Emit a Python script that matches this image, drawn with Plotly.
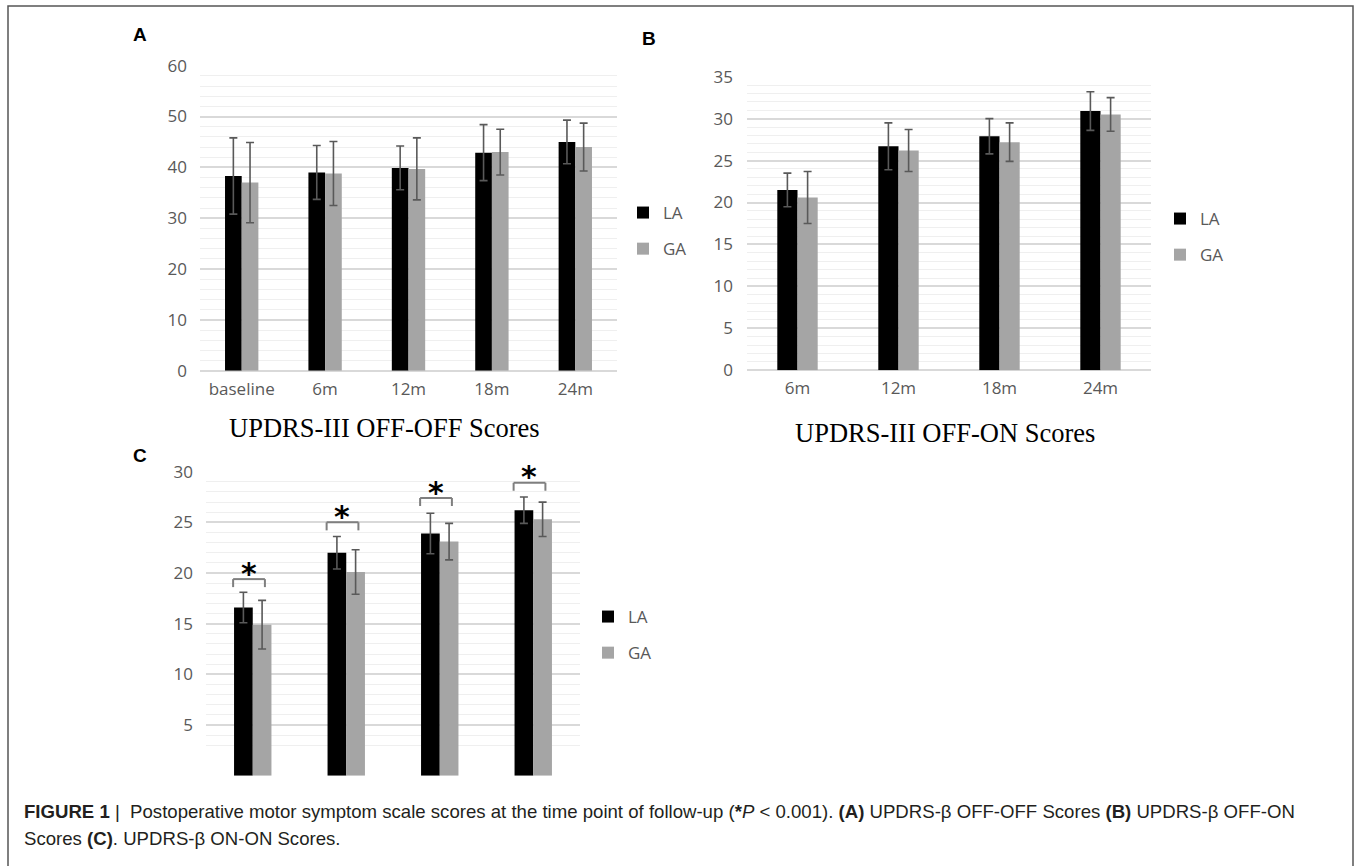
import plotly.graph_objects as go

W, H = 1360, 866

# ---- data ----
groups = ["LA", "GA"]

offoff_times = ["baseline", "6m", "12m", "18m", "24m"]
offoff_la = [38.3, 39.0, 39.9, 42.9, 45.0]
offoff_la_sd = [7.5, 5.3, 4.3, 5.5, 4.3]
offoff_ga = [37.0, 38.8, 39.7, 43.0, 44.0]
offoff_ga_sd = [7.9, 6.3, 6.1, 4.5, 4.7]

offon_times = ["6m", "12m", "18m", "24m"]
offon_la = [21.5, 26.7, 27.9, 30.9]
offon_la_sd = [2.0, 2.8, 2.1, 2.3]
offon_ga = [20.6, 26.2, 27.2, 30.5]
offon_ga_sd = [3.1, 2.5, 2.3, 2.0]

onon_times = ["6m", "12m", "18m", "24m"]
onon_la = [16.6, 22.0, 23.9, 26.2]
onon_la_sd = [1.5, 1.6, 2.0, 1.3]
onon_ga = [14.9, 20.1, 23.1, 25.3]
onon_ga_sd = [2.4, 2.2, 1.8, 1.7]
onon_sig_y = [19.4, 25.0, 27.4, 28.9]   # height of the significance brackets

title_a = "UPDRS-III OFF-OFF Scores"
title_b = "UPDRS-III OFF-ON Scores"

# ---- style ----
LA_COLOR = "#000000"
GA_COLOR = "#a5a5a5"
ERR_COLOR = "#595959"
TICK_FONT = dict(family="Open Sans, Liberation Sans, sans-serif", size=17, color="#595959")
MAJOR = "#d9d9d9"
MINOR = "#efefef"


def px_x(v):
    return v / W


def px_y(v):
    return 1 - v / H


fig = go.Figure()


def add_pair(times, la, la_sd, ga, ga_sd, xa, ya, legend):
    for name, vals, sd, color in (("LA", la, la_sd, LA_COLOR), ("GA", ga, ga_sd, GA_COLOR)):
        fig.add_trace(go.Bar(
            x=times, y=vals, name=name, xaxis=xa, yaxis=ya,
            marker=dict(color=color, line=dict(width=0)),
            error_y=dict(type="data", array=sd, visible=True,
                         color=ERR_COLOR, thickness=1.6, width=4),
            legend=legend, legendgroup=legend + name,
        ))


add_pair(offoff_times, offoff_la, offoff_la_sd, offoff_ga, offoff_ga_sd, "x", "y", "legend")
add_pair(offon_times, offon_la, offon_la_sd, offon_ga, offon_ga_sd, "x2", "y2", "legend2")
add_pair(onon_times, onon_la, onon_la_sd, onon_ga, onon_ga_sd, "x3", "y3", "legend3")

xax_common = dict(type="category", showgrid=False, showline=False, ticks="",
                  tickfont=TICK_FONT, ticklabelstandoff=6, fixedrange=True,
                  automargin=False)

fig.update_layout(
    width=W, height=H,
    margin=dict(l=0, r=0, t=0, b=0, pad=0, autoexpand=False),
    paper_bgcolor="white", plot_bgcolor="white",
    barmode="group", bargap=0.6, bargroupgap=0,
    xaxis=dict(domain=[px_x(200), px_x(617)], anchor="y", **xax_common),
    yaxis=dict(domain=[px_y(370.7), px_y(65.7)], anchor="x", range=[0, 60],
               dtick=10, tick0=0, showgrid=True, gridcolor=MAJOR, gridwidth=1.5,
               zeroline=True, zerolinecolor=MAJOR, zerolinewidth=1.5,
               minor=dict(dtick=2, tick0=0, showgrid=True, gridcolor=MINOR, gridwidth=1),
               tickfont=TICK_FONT, ticklabelstandoff=12, fixedrange=True,
               automargin=False),
    xaxis2=dict(domain=[px_x(747), px_x(1151)], anchor="y2", **xax_common),
    yaxis2=dict(domain=[px_y(370.3), px_y(76.7)], anchor="x2", range=[0, 35],
                dtick=5, tick0=0, showgrid=True, gridcolor=MAJOR, gridwidth=1.5,
                zeroline=True, zerolinecolor=MAJOR, zerolinewidth=1.5,
                minor=dict(dtick=1, tick0=0, showgrid=True, gridcolor=MINOR, gridwidth=1),
                tickfont=TICK_FONT, ticklabelstandoff=13, fixedrange=True,
                automargin=False),
    xaxis3=dict(domain=[px_x(206), px_x(580)], anchor="y3", showticklabels=False,
                type="category", showgrid=False, showline=False, ticks="",
                fixedrange=True, automargin=False),
    yaxis3=dict(domain=[px_y(775.7), px_y(471.7)], anchor="x3", range=[0, 30],
                tickmode="array", tickvals=[5, 10, 15, 20, 25, 30],
                showgrid=True, gridcolor=MAJOR, gridwidth=1.5, zeroline=False,
                minor=dict(tickmode="array",
                           tickvals=[v for v in range(3, 30) if v % 5],
                           showgrid=True, gridcolor=MINOR, gridwidth=1),
                tickfont=TICK_FONT, ticklabelstandoff=12, fixedrange=True,
                automargin=False),
    showlegend=True,
)

leg_common = dict(font=TICK_FONT, bgcolor="rgba(0,0,0,0)", borderwidth=0,
                  tracegroupgap=11, itemclick=False, itemdoubleclick=False,
                  xanchor="left", yanchor="top", traceorder="grouped")
fig.update_layout(
    legend=dict(x=px_x(623), y=px_y(195), **leg_common),
    legend2=dict(x=px_x(1160), y=px_y(201), **leg_common),
    legend3=dict(x=px_x(588), y=px_y(599), **leg_common),
)

# significance brackets and stars on the ON-ON panel
for i, yb in enumerate(onon_sig_y):
    x0, x1 = i - 0.21, i + 0.13
    line = dict(color="#7f7f7f", width=2)
    fig.add_shape(type="line", xref="x3", yref="y3", x0=x0, x1=x1, y0=yb, y1=yb, line=line)
    for xe in (x0, x1):
        fig.add_shape(type="line", xref="x3", yref="y3", x0=xe, x1=xe,
                      ysizemode="pixel", yanchor=yb, y0=0, y1=-8, line=line)
    fig.add_annotation(x=i - 0.045, y=yb, xref="x3", yref="y3", text="<b>*</b>",
                       showarrow=False, yanchor="middle", yshift=6,
                       font=dict(family="DejaVu Sans", size=30, color="black"))

# panel titles
title_font = dict(family="Liberation Serif, Times New Roman, serif", size=26.5, color="black")
fig.add_annotation(x=px_x(384), y=px_y(428), xref="paper", yref="paper", text=title_a,
                   showarrow=False, xanchor="center", yanchor="middle", font=title_font)
fig.add_annotation(x=px_x(945), y=px_y(433), xref="paper", yref="paper", text=title_b,
                   showarrow=False, xanchor="center", yanchor="middle", font=title_font)

# panel letters
letter_font = dict(family="Liberation Sans, Arial, sans-serif", size=19, color="black")
for letter, lx, ly in (("A", 140, 34), ("B", 649, 38), ("C", 140, 455)):
    fig.add_annotation(x=px_x(lx), y=px_y(ly), xref="paper", yref="paper",
                       text=f"<b>{letter}</b>", showarrow=False,
                       xanchor="center", yanchor="middle", font=letter_font)

# figure caption
cap_font = dict(family="Liberation Sans, Arial, sans-serif", size=18.6, color="#231f20")
cap1 = ("<b>FIGURE 1</b> |  Postoperative motor symptom scale scores at the time point of "
        "follow-up (<b>*</b><i>P</i> &lt; 0.001). <b>(A)</b> UPDRS-β OFF-OFF Scores "
        "<b>(B)</b> UPDRS-β OFF-ON")
cap2 = "Scores <b>(C)</b>. UPDRS-β ON-ON Scores."
fig.add_annotation(x=px_x(22), y=px_y(811), xref="paper", yref="paper", text=cap1,
                   showarrow=False, xanchor="left", yanchor="middle", font=cap_font)
fig.add_annotation(x=px_x(22), y=px_y(838), xref="paper", yref="paper", text=cap2,
                   showarrow=False, xanchor="left", yanchor="middle", font=cap_font)

# frame around the figure
fig.add_shape(type="rect", xref="paper", yref="paper",
              x0=px_x(8), x1=px_x(1353), y0=-0.05, y1=px_y(6),
              line=dict(color="#555555", width=1.5), fillcolor="rgba(0,0,0,0)")

fig.write_html("out.html")
